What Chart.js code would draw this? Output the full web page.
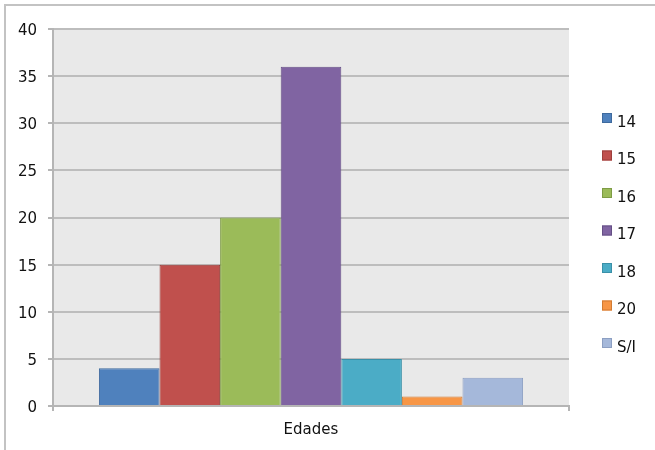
<!DOCTYPE html>
<html>
<head>
<meta charset="utf-8">
<script src="https://cdn.jsdelivr.net/npm/chart.js@4"></script>
<style>
  html, body { margin: 0; padding: 0; background: #ffffff; }
  #wrap { position: relative; width: 655px; height: 450px; }
</style>
</head>
<body>
<div id="wrap"><canvas id="myChart" width="655" height="450"></canvas></div>
<script>
const categories = ['Edades'];
const seriesLabels = ['14', '15', '16', '17', '18', '20', 'S/I'];
const seriesValues = [4, 15, 20, 36, 5, 1, 3];
const seriesColors = ['#4F81BD', '#C0504D', '#9BBB59', '#8064A2', '#4BACC6', '#F79646', '#A5B8DA'];
const seriesBorders = ['#3E6A9E', '#9E3F3C', '#7E9C45', '#654F85', '#3A90A8', '#D27B32', '#8C9FC2'];
const yTicks = [0, 5, 10, 15, 20, 25, 30, 35, 40];

const ctx = document.getElementById('myChart').getContext('2d');

// gray plot background + outer frame
const backdrop = {
    id: 'backdrop',
    beforeDraw(chart) {
        const c = chart.ctx;
        const a = chart.chartArea;
        c.save();
        c.fillStyle = '#E9E9E9';
        c.fillRect(a.left, a.top, a.right - a.left, a.bottom - a.top);
        c.strokeStyle = '#C3C3C3';
        c.lineWidth = 2;
        c.beginPath();
        c.moveTo(5, 450);
        c.lineTo(5, 5);
        c.lineTo(655, 5);
        c.stroke();
        c.restore();
    }
};

// legend on the right, laid out like the original
const sideLegend = {
    id: 'sideLegend',
    afterDraw(chart) {
        const c = chart.ctx;
        c.save();
        c.font = '15px "DejaVu Sans"';
        c.textBaseline = 'alphabetic';
        c.textAlign = 'left';
        chart.data.datasets.forEach((ds, i) => {
            const top = 113 + i * 37.5;
            c.fillStyle = ds.backgroundColor;
            c.fillRect(602, top, 10, 10);
            c.strokeStyle = ds.borderColor;
            c.lineWidth = 1;
            c.strokeRect(602.5, top + 0.5, 9, 9);
            c.fillStyle = '#111111';
            c.fillText(ds.label, 617, top + 13.5);
        });
        c.restore();
    }
};

const myChart = new Chart(ctx, {
    type: 'bar',
    data: {
        labels: categories,
        datasets: seriesLabels.map((label, i) => ({
            label: label,
            data: [seriesValues[i]],
            backgroundColor: seriesColors[i],
            borderColor: seriesBorders[i],
            borderWidth: 1,
            categoryPercentage: 0.822,
            barPercentage: 1.0
        }))
    },
    options: {
        responsive: false,
        animation: false,
        layout: {
            padding: { top: 29, right: 86, bottom: 0, left: 0 }
        },
        plugins: {
            legend: { display: false },
            title: { display: false },
            tooltip: { enabled: false }
        },
        scales: {
            y: {
                min: 0,
                max: 40,
                afterFit: (s) => { s.width = 53; },
                afterBuildTicks: (s) => { s.ticks = yTicks.map(v => ({ value: v })); },
                border: { display: true, color: '#B5B5B5', width: 2 },
                grid: {
                    color: '#BDBDBD',
                    lineWidth: 2,
                    drawTicks: true,
                    tickLength: 5,
                    tickColor: '#B5B5B5'
                },
                ticks: {
                    color: '#111111',
                    padding: 11,
                    labelOffset: 2,
                    font: { size: 15, family: 'DejaVu Sans' }
                }
            },
            x: {
                afterFit: (s) => { s.height = 44; },
                border: { display: true, color: '#B5B5B5', width: 2 },
                grid: {
                    drawOnChartArea: false,
                    drawTicks: true,
                    tickLength: 5,
                    color: '#B5B5B5',
                    lineWidth: 2
                },
                ticks: {
                    color: '#111111',
                    padding: 10,
                    font: { size: 15, family: 'DejaVu Sans' }
                }
            }
        }
    },
    plugins: [backdrop, sideLegend]
});
</script>
</body>
</html>
